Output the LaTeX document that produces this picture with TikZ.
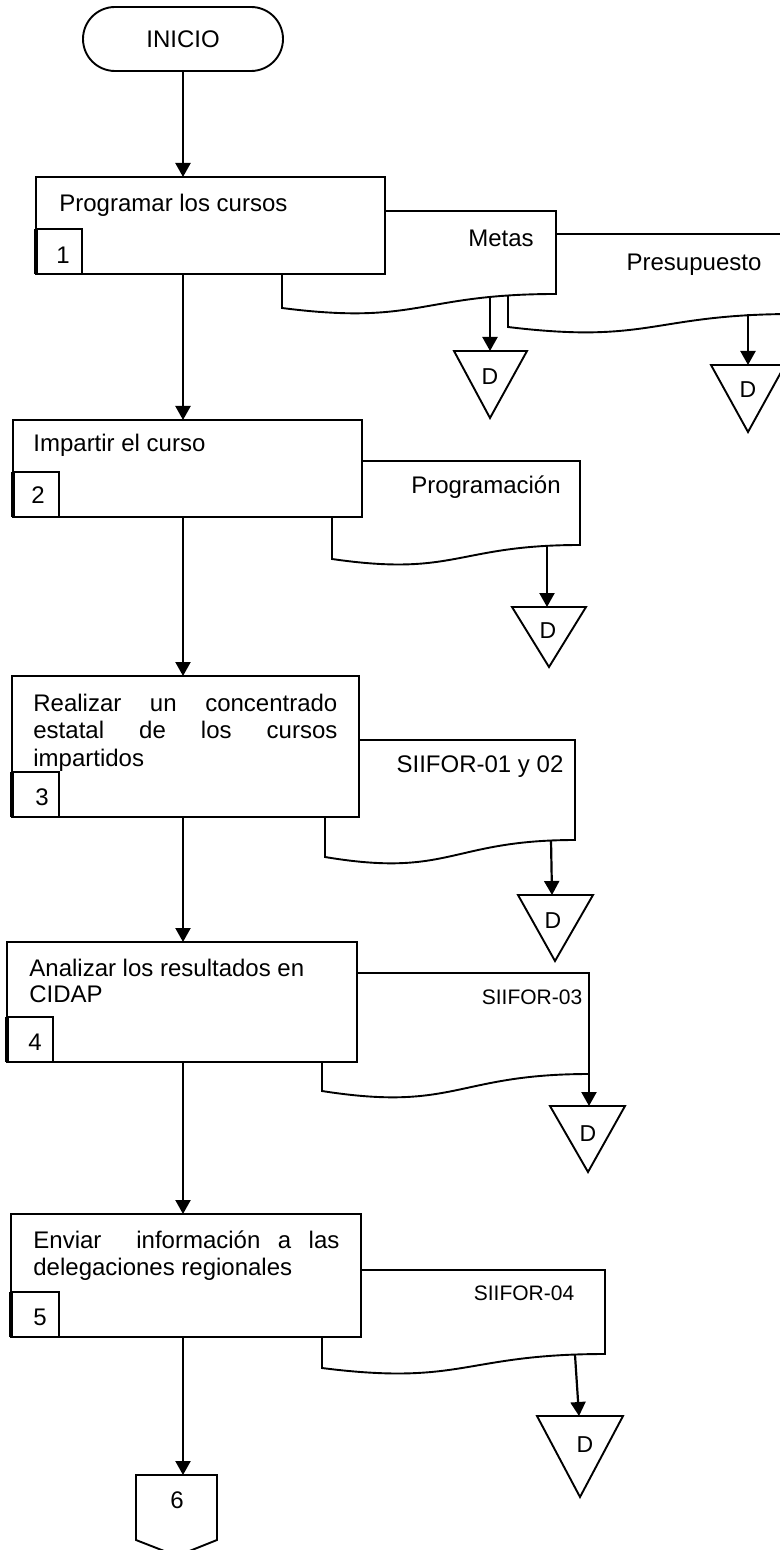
\documentclass[tikz,border=0pt]{standalone}
\usepackage{fontspec}
\setmainfont{Liberation Sans}
\usetikzlibrary{arrows.meta}

\begin{document}
\begin{tikzpicture}[x=0.5pt,y=-0.5pt,
  outline/.style={draw=black, line width=0.95pt, fill=white},
  procbox/.style={outline, rectangle, inner sep=0pt, outer sep=0pt, anchor=north west},
  numbox/.style={outline, rectangle, inner sep=0pt, outer sep=0pt,
    minimum width=23pt, minimum height=22.5pt, anchor=south west},
  flowarrow/.style={line width=1.1pt, -{Triangle[width=7.5pt,length=7pt]}},
  txt/.style={inner sep=0pt, font=\fontsize{12}{13.75}\selectfont},
  smalltxt/.style={inner sep=0pt, font=\fontsize{10.5}{12.5}\selectfont},
  dtxt/.style={inner sep=0pt, font=\fontsize{11.5}{13}\selectfont},
]
\useasboundingbox (0,0) rectangle (780,1550);
\fill[white] (0,0) rectangle (780,1550);
\clip (0,0) rectangle (780,1550);

% common x of the main vertical flow
\coordinate (spine) at (183,0);

% ---- start terminal
\node[outline, rounded corners=16pt, minimum width=100pt, minimum height=32pt,
      inner sep=0pt, font=\fontsize{12}{13.75}\selectfont] (inicio) at (183,39) {INICIO};

% ---- documents (drawn first, the boxes overlap their top-left part)
\path[outline] (508,327) -- (508,234) -- (795,234) -- (795,314)
  .. controls (651.5,314) and (651.5,344.4) .. (508,327) -- cycle;
\path[outline] (282,308) -- (282,211) -- (556,211) -- (556,294)
  .. controls (419,294) and (419,325.6) .. (282,308) -- cycle;
\path[outline] (332,559) -- (332,461) -- (580,461) -- (580,545)
  .. controls (456,545) and (456,577) .. (332,559) -- cycle;
\path[outline] (325,857) -- (325,740) -- (575,740) -- (575,840)
  .. controls (450,840) and (450,878) .. (325,857) -- cycle;
\path[outline] (322,1091) -- (322,973) -- (589,973) -- (589,1074)
  .. controls (455.5,1074) and (455.5,1112) .. (322,1091) -- cycle;
\path[outline] (322,1368) -- (322,1270) -- (605,1270) -- (605,1354)
  .. controls (463.5,1354) and (463.5,1386) .. (322,1368) -- cycle;

\node[txt, anchor=base] (metas) at (501,246.6) {Metas};
\node[txt, anchor=base] (presup) at (694,270.6) {Presupuesto};
\node[txt, anchor=base] (progdoc) at (486,493.6) {Programación};
\node[txt, anchor=base] (siifor1) at (480,772.6) {SIIFOR-01 y 02};
\node[smalltxt, anchor=base] (siifor3) at (532,1004.5) {SIIFOR-03};
\node[smalltxt, anchor=base] (siifor4) at (524,1300.5) {SIIFOR-04};

% ---- process boxes
\node[procbox, minimum width=174.5pt, minimum height=48.5pt] (b1) at (36,177) {};
\node[procbox, minimum width=174.5pt, minimum height=48.5pt] (b2) at (13,420) {};
\node[procbox, minimum width=173.5pt, minimum height=70.5pt] (b3) at (12,676) {};
\node[procbox, minimum width=175pt, minimum height=60pt] (b4) at (7,942) {};
\node[procbox, minimum width=175pt, minimum height=61.5pt] (b5) at (11,1214) {};

\node[txt, anchor=base west] (t1) at (59,211.6) {Programar los cursos};
\node[txt, anchor=base west] (t2) at (33,451.6) {Impartir el curso};
\node[txt, anchor=north west, align=left] (t3) at (33,693.4)
  {\makebox[152pt][s]{Realizar un concentrado}\\
   \makebox[152pt][s]{estatal de los cursos}\\
   impartidos};
\node[txt, anchor=north west, align=left, font=\fontsize{12}{13}\selectfont] (t4) at (29,958.4)
  {Analizar los resultados en\\CIDAP};
\node[txt, anchor=north west, align=left] (t5) at (33,1230.4)
  {\makebox[153pt][s]{Enviar\ \ información a las}\\
   delegaciones regionales};

% ---- step numbers
\node[numbox] (n1) at (b1.south west) {};
\node[numbox] (n2) at (b2.south west) {};
\node[numbox, minimum width=23.5pt] (n3) at (b3.south west) {};
\node[numbox] (n4) at (b4.south west) {};
\node[numbox, minimum width=24pt] (n5) at (b5.south west) {};
\foreach \n in {n1,n2,n3,n4,n5}
  \draw[line width=1.6pt] (\n.north west) -- (\n.south west);
\node[txt, anchor=base] (n1t) at (63,263.6) {1};
\node[txt, anchor=base] (n2t) at (38,503.6) {2};
\node[txt, anchor=base] (n3t) at (42,805.6) {3};
\node[txt, anchor=base] (n4t) at (35,1050.6) {4};
\node[txt, anchor=base] (n5t) at (40,1325.6) {5};

% ---- off-page connector
\path[outline] (136,1475) -- (217,1475) -- (217,1540) -- (177,1556) -- (136,1540) -- cycle;
\coordinate (six) at (177,1475);
\node[txt, anchor=base] (sixt) at (177,1508.6) {6};

% ---- storage triangles
\path[outline] (454,351) -- (527,351) -- (490,418) -- cycle;
\path[outline] (711,365) -- (785,365) -- (748,432) -- cycle;
\path[outline] (512,607) -- (586,607) -- (549,667) -- cycle;
\path[outline] (518,895) -- (593,895) -- (555,961) -- cycle;
\path[outline] (550,1106) -- (625,1106) -- (588,1172) -- cycle;
\path[outline] (537,1416) -- (623,1416) -- (580,1497) -- cycle;
\node[dtxt, anchor=base] (d1) at (490,385) {D};
\node[dtxt, anchor=base] (d2) at (748,398) {D};
\node[dtxt, anchor=base] (d3) at (548,638) {D};
\node[dtxt, anchor=base] (d4) at (553,928) {D};
\node[dtxt, anchor=base] (d5) at (588,1141) {D};
\node[dtxt, anchor=base] (d6) at (585,1452) {D};

% connector end points on documents and triangles
\coordinate (m1) at (490,297);   \coordinate (k1) at (490,351);
\coordinate (m2) at (748,314);   \coordinate (k2) at (748,365);
\coordinate (m3) at (547,546);   \coordinate (k3) at (547,607);
\coordinate (m4) at (551,840);   \coordinate (k4) at (552,895);
\coordinate (m5) at (589,1074);  \coordinate (k5) at (589,1106);
\coordinate (m6) at (575,1355);  \coordinate (k6) at (579,1416);

% ---- connectors
\draw[flowarrow] (inicio.south) -- (inicio.south |- b1.north);
\draw[flowarrow] (b1.south -| spine) -- (b2.north -| spine);
\draw[flowarrow] (b2.south -| spine) -- (b3.north -| spine);
\draw[flowarrow] (b3.south -| spine) -- (b4.north -| spine);
\draw[flowarrow] (b4.south -| spine) -- (b5.north -| spine);
\draw[flowarrow] (b5.south -| spine) -- (spine |- six);
\foreach \i in {1,...,6}
  \draw[flowarrow] (m\i) -- (k\i);
\end{tikzpicture}
\end{document}
